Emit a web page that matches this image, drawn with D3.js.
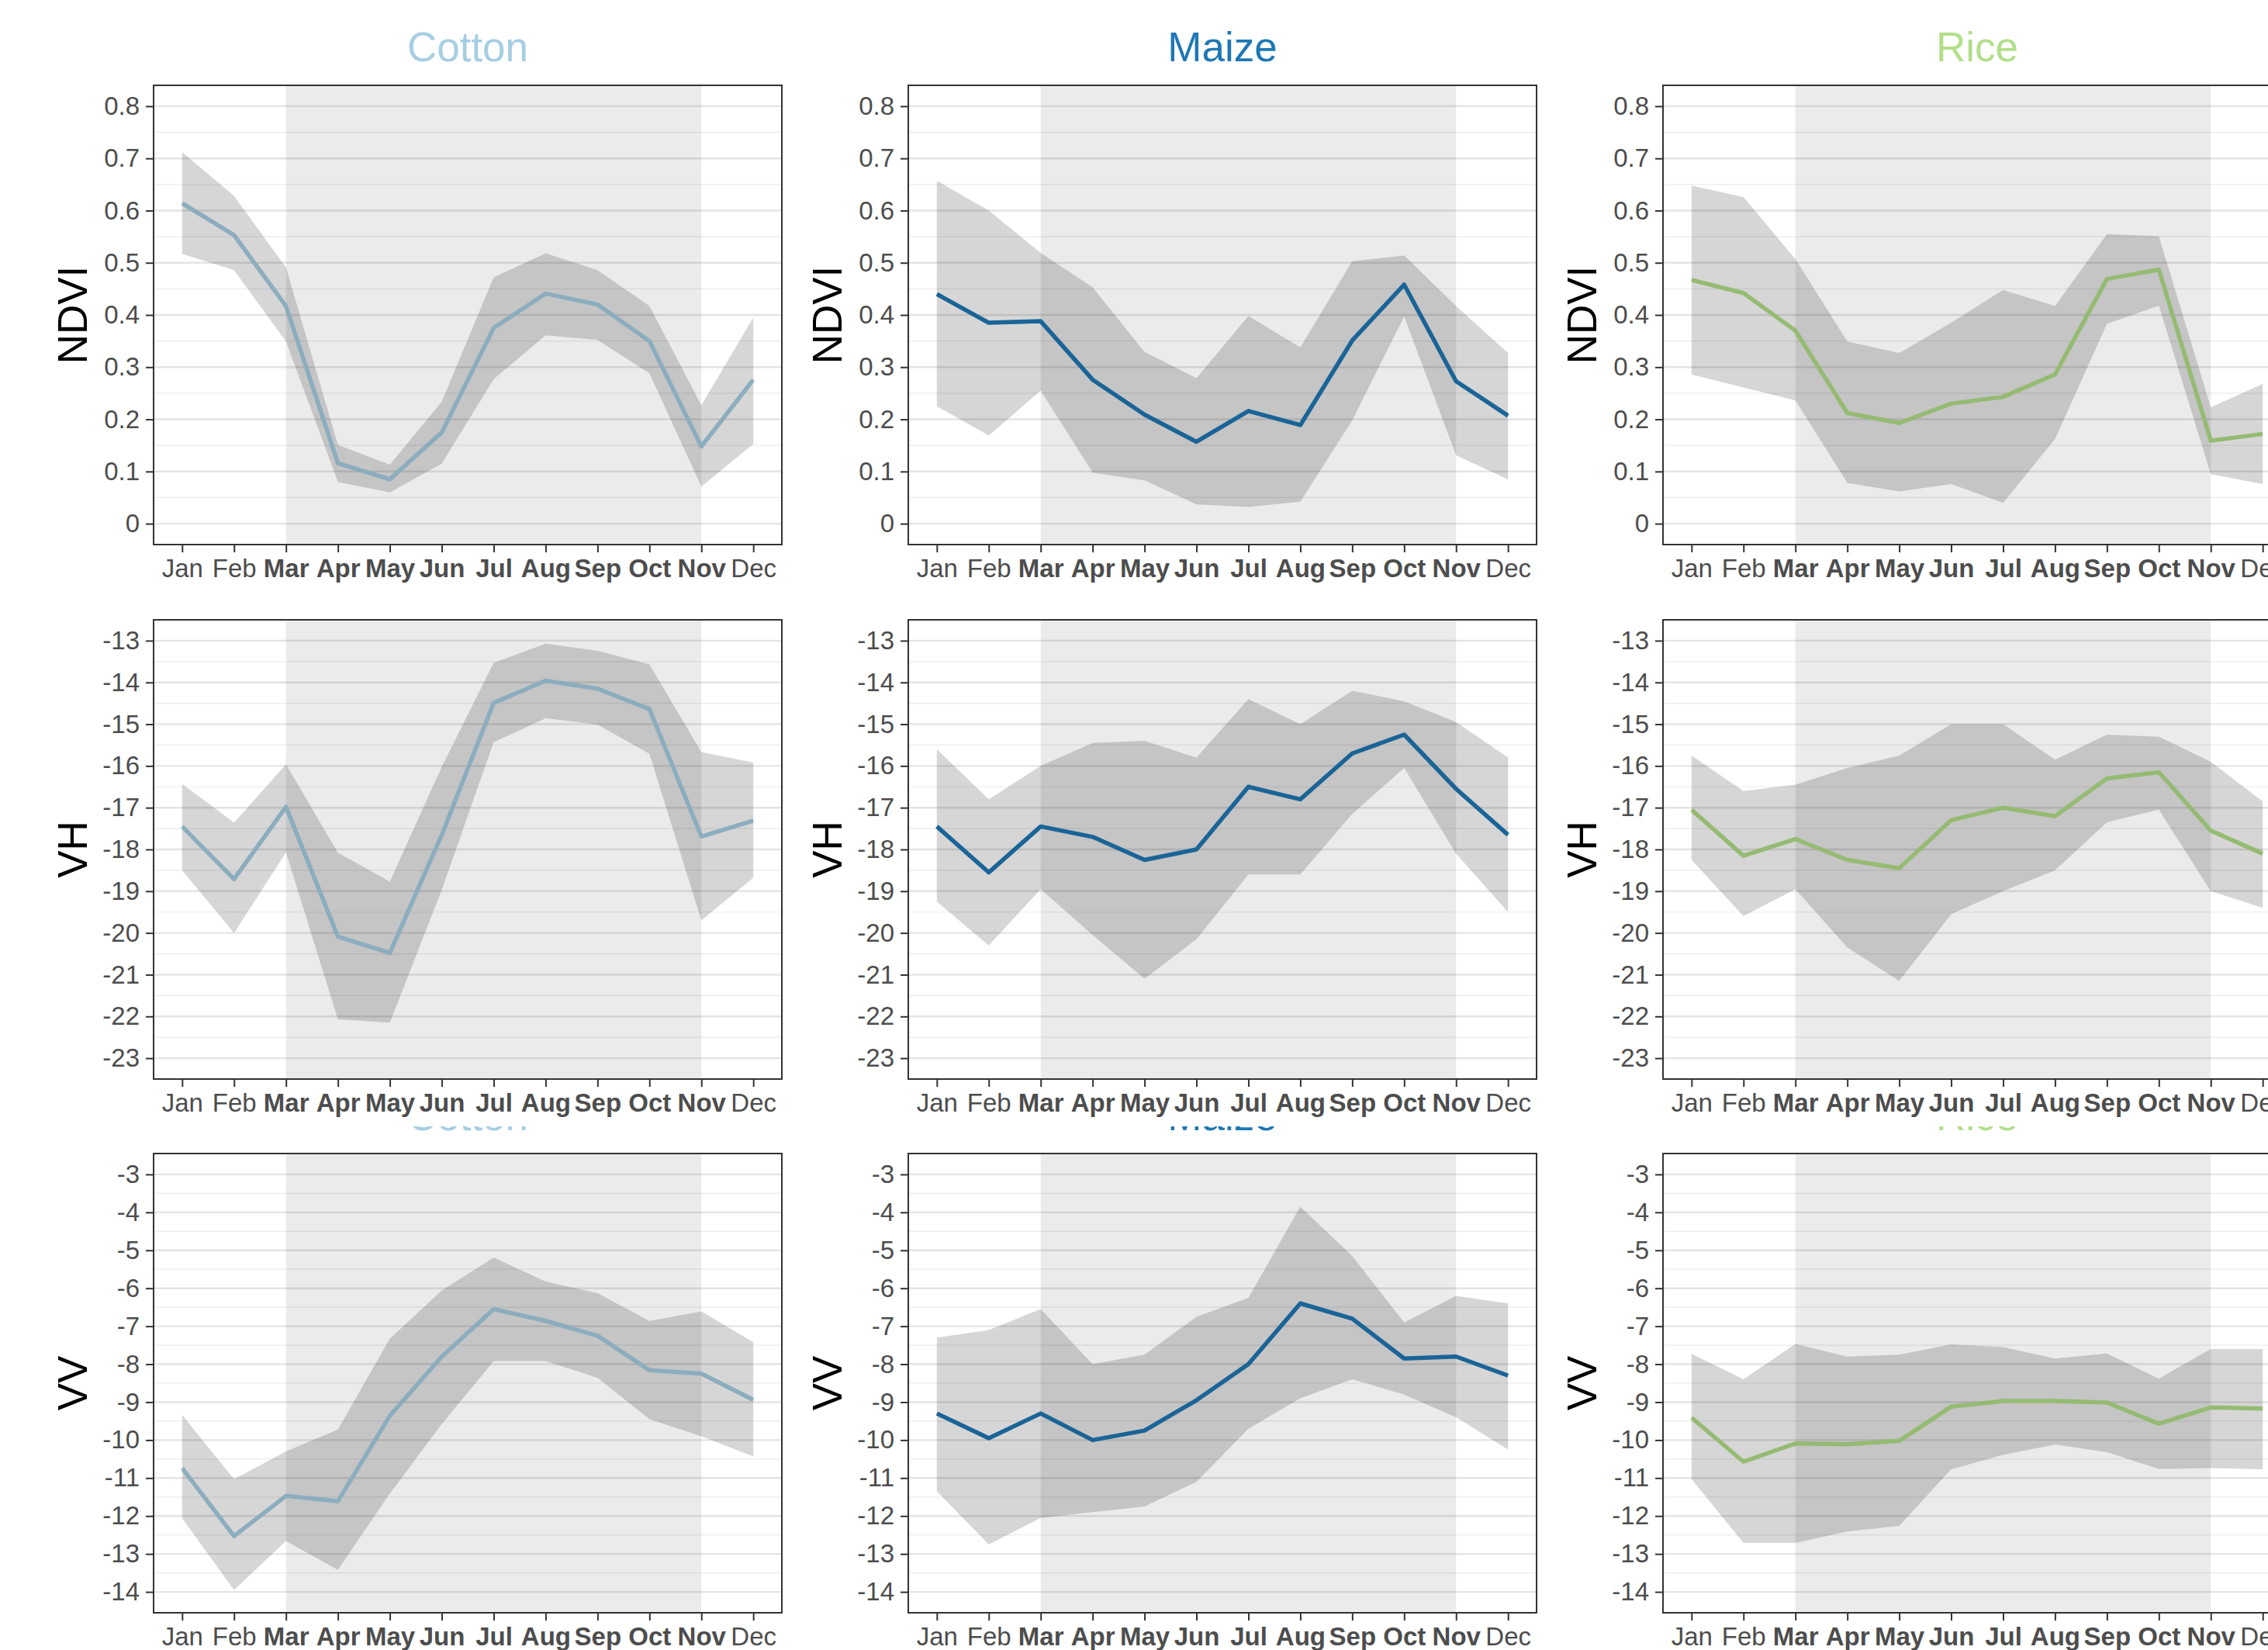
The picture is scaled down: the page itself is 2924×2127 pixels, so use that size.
<!DOCTYPE html>
<html>
<head>
<meta charset="utf-8">
<script src="https://cdn.jsdelivr.net/npm/d3@7"></script>
<style>
  body { margin: 0; background: #fff; }
  svg { display: block; }
</style>
</head>
<body>
<svg id="chart" width="2924" height="2127"></svg>
<script>
// Profils mensuels NDVI / VH / VV par culture

const months = ["Jan", "Feb", "Mar", "Apr", "May", "Jun", "Jul", "Aug", "Sep", "Oct", "Nov", "Dec"];
const boldMonths = ["Mar", "Apr", "May", "Jun", "Jul", "Aug", "Sep", "Oct", "Nov"];
const crops = ["Cotton", "Maize", "Rice"];
const cropColors = ["#A6CEE3", "#1F78B4", "#B2DF8A"];
const indices = ["NDVI", "VH", "VV"];
const seasonStart = 3, seasonEnd = 11;

const ndviTicks = [0, 0.1, 0.2, 0.3, 0.4, 0.5, 0.6, 0.7, 0.8];
const vhTicks = [-23, -22, -21, -20, -19, -18, -17, -16, -15, -14, -13];
const vvTicks = [-14, -13, -12, -11, -10, -9, -8, -7, -6, -5, -4, -3];

// Cotton
const cottonNdviMean = [0.614, 0.553, 0.417, 0.116, 0.085, 0.175, 0.375, 0.441, 0.420, 0.350, 0.148, 0.276];
const cottonNdviHigh = [0.712, 0.628, 0.491, 0.151, 0.113, 0.234, 0.472, 0.518, 0.486, 0.417, 0.227, 0.395];
const cottonNdviLow  = [0.517, 0.486, 0.349, 0.080, 0.060, 0.115, 0.277, 0.361, 0.352, 0.288, 0.071, 0.153];
const cottonVhMean = [-17.45, -18.71, -16.98, -20.09, -20.48, -17.65, -14.49, -13.96, -14.15, -14.64, -17.69, -17.31];
const cottonVhHigh = [-16.43, -17.36, -15.96, -18.08, -18.77, -16.02, -13.53, -13.07, -13.24, -13.57, -15.67, -15.92];
const cottonVhLow  = [-18.50, -20.00, -18.07, -22.07, -22.15, -18.97, -15.43, -14.86, -15.01, -15.71, -19.70, -18.68];
const cottonVvMean = [-10.74, -12.53, -11.47, -11.61, -9.36, -7.80, -6.55, -6.86, -7.25, -8.16, -8.25, -8.94];
const cottonVvHigh = [-9.34, -11.03, -10.30, -9.72, -7.33, -6.06, -5.19, -5.82, -6.13, -6.86, -6.61, -7.42];
const cottonVvLow  = [-12.06, -13.95, -12.66, -13.42, -11.41, -9.58, -7.92, -7.92, -8.36, -9.45, -9.90, -10.43];

// Maize
const maizeNdviMean = [0.440, 0.385, 0.388, 0.276, 0.209, 0.157, 0.216, 0.189, 0.351, 0.458, 0.273, 0.207];
const maizeNdviHigh = [0.657, 0.600, 0.519, 0.453, 0.329, 0.279, 0.398, 0.338, 0.503, 0.514, 0.417, 0.327];
const maizeNdviLow  = [0.225, 0.169, 0.255, 0.098, 0.083, 0.037, 0.032, 0.042, 0.198, 0.397, 0.131, 0.085];
const maizeVhMean = [-17.45, -18.55, -17.45, -17.70, -18.25, -18.00, -16.50, -16.80, -15.70, -15.25, -16.55, -17.65];
const maizeVhHigh = [-15.60, -16.80, -16.00, -15.45, -15.40, -15.80, -14.40, -15.00, -14.20, -14.45, -14.95, -15.80];
const maizeVhLow  = [-19.25, -20.30, -18.95, -20.05, -21.10, -20.15, -18.60, -18.60, -17.15, -16.05, -18.10, -19.50];
const maizeVvMean = [-9.30, -9.95, -9.30, -10.00, -9.75, -8.95, -8.00, -6.40, -6.80, -7.85, -7.80, -8.30];
const maizeVvHigh = [-7.30, -7.10, -6.55, -8.00, -7.75, -6.75, -6.25, -3.85, -5.15, -6.90, -6.20, -6.40];
const maizeVvLow  = [-11.35, -12.75, -12.05, -11.90, -11.75, -11.10, -9.70, -8.90, -8.40, -8.80, -9.40, -10.25];

// Rice
const riceNdviMean = [0.467, 0.442, 0.370, 0.212, 0.193, 0.230, 0.243, 0.286, 0.469, 0.487, 0.159, 0.172];
const riceNdviHigh = [0.648, 0.626, 0.507, 0.349, 0.327, 0.385, 0.448, 0.417, 0.555, 0.551, 0.223, 0.268];
const riceNdviLow  = [0.286, 0.261, 0.236, 0.078, 0.062, 0.076, 0.040, 0.162, 0.383, 0.418, 0.095, 0.076];
const riceVhMean = [-17.05, -18.15, -17.75, -18.25, -18.45, -17.30, -17.00, -17.20, -16.30, -16.15, -17.55, -18.10];
const riceVhHigh = [-15.75, -16.60, -16.45, -16.05, -15.75, -15.00, -15.00, -15.85, -15.25, -15.30, -15.90, -16.85];
const riceVhLow  = [-18.25, -19.60, -18.95, -20.35, -21.15, -19.55, -19.00, -18.50, -17.35, -17.05, -19.00, -19.40];
const riceVvMean = [-9.41, -10.57, -10.09, -10.11, -10.02, -9.12, -8.97, -8.97, -9.01, -9.57, -9.14, -9.17];
const riceVvHigh = [-7.73, -8.40, -7.47, -7.80, -7.75, -7.48, -7.55, -7.85, -7.72, -8.38, -7.60, -7.60];
const riceVvLow  = [-11.03, -12.71, -12.71, -12.41, -12.26, -10.77, -10.39, -10.12, -10.32, -10.76, -10.74, -10.77];

const series = {
    Cotton: { NDVI: [cottonNdviMean, cottonNdviLow, cottonNdviHigh], VH: [cottonVhMean, cottonVhLow, cottonVhHigh], VV: [cottonVvMean, cottonVvLow, cottonVvHigh] },
    Maize:  { NDVI: [maizeNdviMean, maizeNdviLow, maizeNdviHigh],    VH: [maizeVhMean, maizeVhLow, maizeVhHigh],    VV: [maizeVvMean, maizeVvLow, maizeVvHigh] },
    Rice:   { NDVI: [riceNdviMean, riceNdviLow, riceNdviHigh],       VH: [riceVhMean, riceVhLow, riceVhHigh],       VV: [riceVvMean, riceVvLow, riceVvHigh] }
};
const tickSets = { NDVI: ndviTicks, VH: vhTicks, VV: vvTicks };

// mise en page
const colLeft = [198, 1171, 2144];
const rowTop = [110, 799, 1487];
const panelW = 810, panelH = 592;
const FONT = "'Liberation Sans', Arial, sans-serif";

const svg = d3.select("#chart");

// titres de la 3e ligne, presque entièrement masqués par le graphique du dessus
crops.forEach((c, ci) => {
    svg.append("text").attr("x", colLeft[ci] + panelW / 2).attr("y", rowTop[2] - 30)
        .attr("text-anchor", "middle").attr("font-family", FONT).attr("font-size", 53)
        .attr("fill", cropColors[ci]).text(c);
});
svg.append("rect").attr("x", 0).attr("y", 1380).attr("width", 2924).attr("height", 72).attr("fill", "#fff");

const x = d3.scaleLinear().domain([0.45, 12.55]).range([0, panelW]);

indices.forEach((idx, ri) => {
    const ticks = tickSets[idx];
    const lo = d3.min(ticks), hi = d3.max(ticks);
    const pad = (hi - lo) * 0.05;
    const y = d3.scaleLinear().domain([lo - pad, hi + pad]).range([panelH, 0]);
    const step = ticks[1] - ticks[0];
    const minor = ticks.slice(0, -1).map(t => t + step / 2);

    crops.forEach((crop, ci) => {
        const [mean, low, high] = series[crop][idx];
        const data = months.map((m, i) => ({ m: i + 1, mean: mean[i], low: low[i], high: high[i] }));
        const g = svg.append("g").attr("transform", `translate(${colLeft[ci]},${rowTop[ri]})`);

        g.append("rect").attr("width", panelW).attr("height", panelH).attr("fill", "#fff");

        // grille
        g.selectAll(".minor").data(minor).join("line").attr("class", "minor")
            .attr("x1", 0).attr("x2", panelW).attr("y1", d => y(d)).attr("y2", d => y(d))
            .attr("stroke", "#EBEBEB").attr("stroke-width", 1.2);
        g.selectAll(".major").data(ticks).join("line").attr("class", "major")
            .attr("x1", 0).attr("x2", panelW).attr("y1", d => y(d)).attr("y2", d => y(d))
            .attr("stroke", "#E4E4E4").attr("stroke-width", 2.4);

        // saison (Mar -> Nov)
        g.append("rect").attr("x", x(seasonStart)).attr("y", 0)
            .attr("width", x(seasonEnd) - x(seasonStart)).attr("height", panelH)
            .attr("fill", "#000").attr("fill-opacity", 0.078);

        // moyenne puis enveloppe par-dessus
        g.append("path").datum(data).attr("fill", "none").attr("stroke", cropColors[ci])
            .attr("stroke-width", 5.5).attr("stroke-linejoin", "round")
            .attr("d", d3.line().x(d => x(d.m)).y(d => y(d.mean)));
        g.append("path").datum(data).attr("fill", "#000").attr("fill-opacity", 0.16)
            .attr("d", d3.area().x(d => x(d.m)).y0(d => y(d.low)).y1(d => y(d.high)));

        g.append("rect").attr("width", panelW).attr("height", panelH)
            .attr("fill", "none").attr("stroke", "#333").attr("stroke-width", 2);

        // axes
        const yAxis = g.append("g").call(d3.axisLeft(y).tickValues(ticks).tickSize(10).tickPadding(8)
            .tickFormat(d => String(+d.toFixed(2))));
        const xAxis = g.append("g").attr("transform", `translate(0,${panelH})`)
            .call(d3.axisBottom(x).tickValues(d3.range(1, 13)).tickSize(10).tickPadding(9)
                .tickFormat(d => months[d - 1]));
        [yAxis, xAxis].forEach(a => {
            a.select(".domain").remove();
            a.selectAll(".tick line").attr("stroke", "#333").attr("stroke-width", 2);
            a.selectAll(".tick text").attr("fill", "#4D4D4D").attr("font-family", FONT).attr("font-size", 33);
        });
        xAxis.selectAll(".tick text").attr("font-weight", d => boldMonths.includes(months[d - 1]) ? "bold" : "normal");

        // titre de l'axe
        g.append("text").attr("transform", `translate(-86,${panelH / 2}) rotate(-90)`)
            .attr("text-anchor", "middle").attr("font-family", FONT).attr("font-size", 53)
            .attr("fill", "#000").text(idx);

        if (ri === 0) {
            g.append("text").attr("x", panelW / 2).attr("y", -31.5).attr("text-anchor", "middle")
                .attr("font-family", FONT).attr("font-size", 53).attr("fill", cropColors[ci]).text(crop);
        }
    });
});
</script>
</body>
</html>
